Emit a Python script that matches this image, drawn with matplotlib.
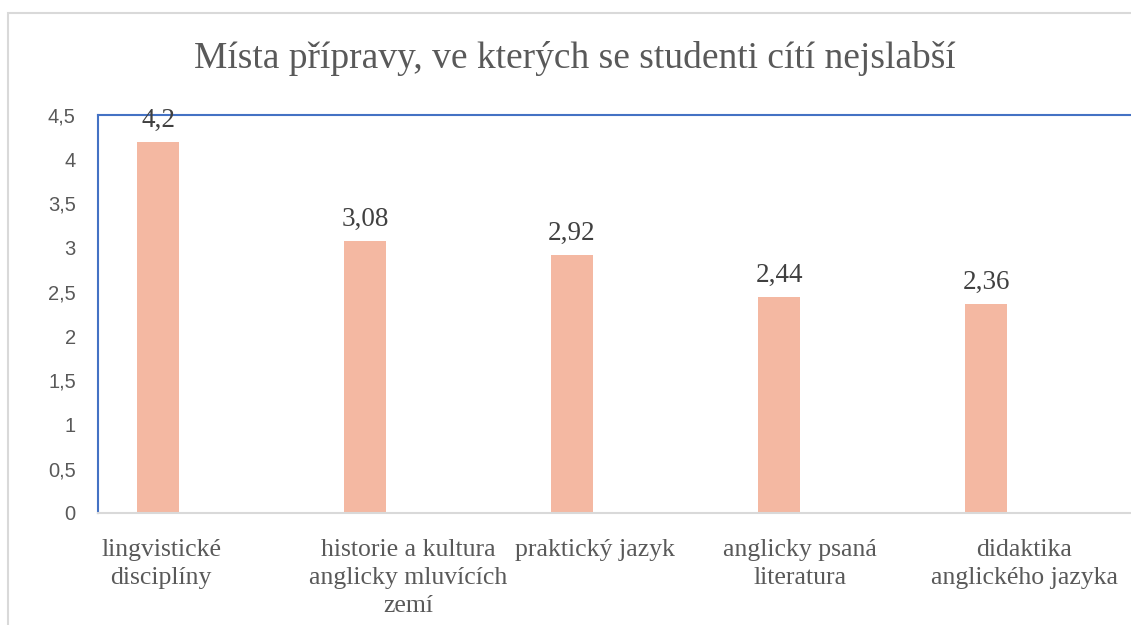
import matplotlib.pyplot as plt
from matplotlib.patches import Rectangle
from matplotlib.ticker import FuncFormatter
import matplotlib.transforms as mtransforms

categories = ['lingvistické\ndisciplíny',
              'historie a kultura\nanglicky mluvících\nzemí',
              'praktický jazyk',
              'anglicky psaná\nliteratura',
              'didaktika\nanglického jazyka']
values = [4.2, 3.08, 2.92, 2.44, 2.36]
value_labels = ['4,2', '3,08', '2,92', '2,44', '2,36']
label_shift = [3, 43, 23, 21, 38]  # px, Excel wraps labels off-centre

serif = 'Liberation Serif'
gray = '#595959'
bar_color = '#F4B8A2'
blue = '#4472C4'

fig = plt.figure(figsize=(11.31, 6.25), dpi=100)
fig.patches.append(Rectangle((8 / 1131, -0.1), 1.2, 1 - 13 / 625 + 0.1,
                             transform=fig.transFigure, fill=False,
                             edgecolor='#D9D9D9', linewidth=1.5))

ax = fig.add_axes([98 / 1131, 112 / 625, 1.0, 398 / 625])
x = list(range(len(values)))
ax.bar(x, values, width=0.205, color=bar_color)
ax.set_ylim(0, 4.5)
ax.set_xlim(-0.29, -0.29 + 1131 / 207)

for xi, v, lab in zip(x, values, value_labels):
    ax.annotate(lab, (xi, v), xytext=(0, 6.5), textcoords='offset points',
                ha='center', va='bottom', fontsize=19.5, family=serif, color='#404040')

ax.set_yticks([0, 0.5, 1, 1.5, 2, 2.5, 3, 3.5, 4, 4.5])
ax.yaxis.set_major_formatter(FuncFormatter(lambda v, p: ('%g' % v).replace('.', ',')))
ax.tick_params(axis='y', length=0, pad=16, labelsize=14.5, labelcolor=gray)
ax.tick_params(axis='x', length=0, pad=19)
ax.set_xticks(x)
ax.set_xticklabels(categories, family=serif, fontsize=18.5, color=gray, linespacing=1.33)
for t, s in zip(ax.get_xticklabels(), label_shift):
    t.set_transform(t.get_transform() + mtransforms.ScaledTranslation(s / 100, 0, fig.dpi_scale_trans))
for t in ax.get_yticklabels():
    t.set_family('Liberation Sans')

ax.spines['left'].set_color(blue)
ax.spines['left'].set_linewidth(1.5)
ax.spines['top'].set_color(blue)
ax.spines['top'].set_linewidth(1.5)
ax.spines['bottom'].set_color('#D9D9D9')
ax.spines['bottom'].set_linewidth(1.5)
ax.spines['right'].set_visible(False)

fig.text(575 / 1131, 1 - 58 / 625, 'Místa přípravy, ve kterých se studenti cítí nejslabší',
         ha='center', va='center', fontsize=27, family=serif, color=gray)

fig.savefig('out.png', dpi=100)
